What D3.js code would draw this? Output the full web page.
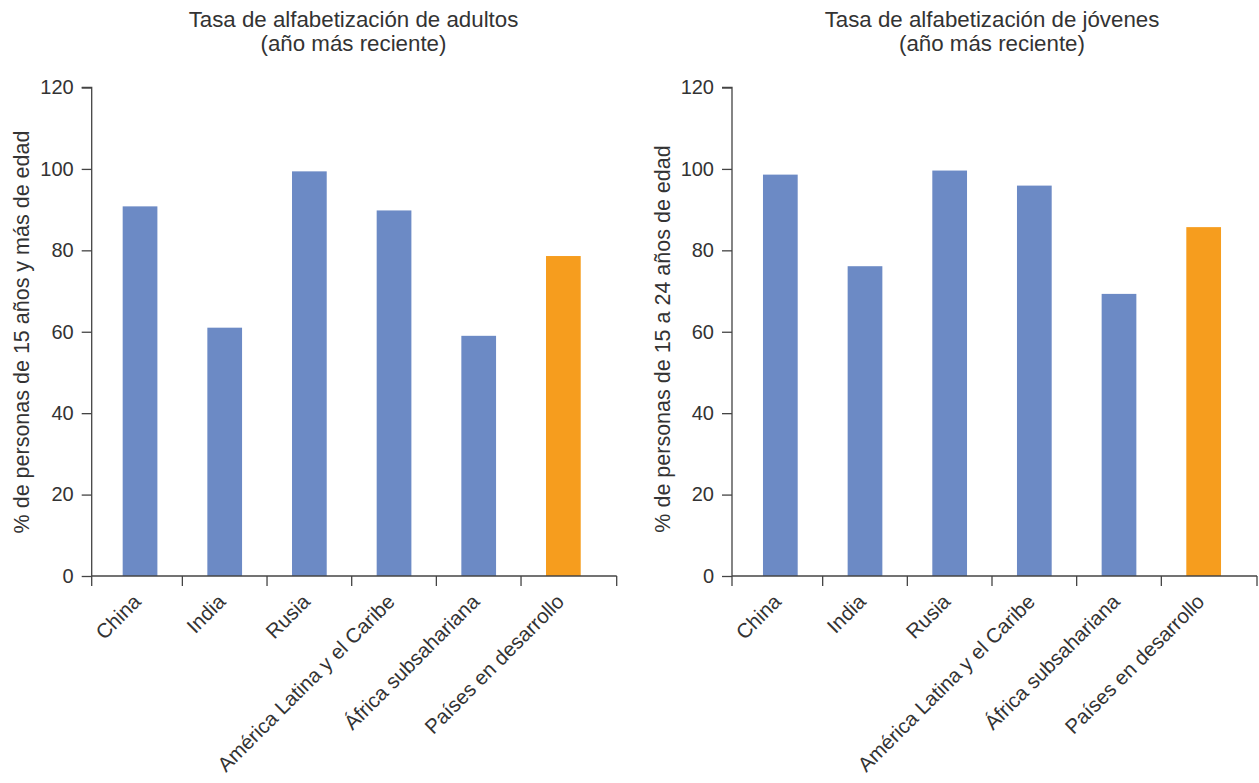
<!DOCTYPE html>
<html><head><meta charset="utf-8">
<script src="https://cdn.jsdelivr.net/npm/d3@7"></script>
<style>
body{margin:0;background:#fff;}
text{font-family:"Liberation Sans","Helvetica",Arial,sans-serif;fill:#333;}
</style></head>
<body><svg id="chart" width="1259" height="783"></svg>
<script>
const categories = ["China","India","Rusia","América Latina y el Caribe","África subsahariana","Países en desarrollo"];
const adultValues = [90.8, 61.0, 99.4, 89.8, 59.0, 78.6];
const youthValues = [98.6, 76.1, 99.6, 95.9, 69.3, 85.7];
const yTicks = [0, 20, 40, 60, 80, 100, 120];
const highlight = "Países en desarrollo";
const titles = [["Tasa de alfabetización de adultos","(año más reciente)"],["Tasa de alfabetización de jóvenes","(año más reciente)"]];
const yLabels = ["% de personas de 15 años y más de edad","% de personas de 15 a 24 años de edad"];

const svg = d3.select("#chart");
const y = d3.scaleLinear().domain([0,120]).range([576, 87.5]);

const panels = [
  {axisX: 91.7, values: adultValues, title: titles[0], ylab: yLabels[0], titleX: 353.5, ylabX: 28.5, ylabY: 332},
  {axisX: 732, values: youthValues, title: titles[1], ylab: yLabels[1], titleX: 992, ylabX: 669.5, ylabY: 339}
];

panels.forEach(p => {
  const g = svg.append("g");
  const x = d3.scaleBand().domain(categories).range([p.axisX + 6, p.axisX + 514]).paddingInner(0.59).paddingOuter(0.295);
  // bars
  g.selectAll("rect").data(categories).join("rect")
    .attr("x", d => x(d))
    .attr("width", x.bandwidth())
    .attr("y", (d,i) => y(p.values[i]))
    .attr("height", (d,i) => y(0) - y(p.values[i]))
    .attr("fill", d => d === highlight ? "#f69d1e" : "#6c8ac5");
  // y axis
  const yAxis = d3.axisLeft(y).tickValues(yTicks).tickSize(10).tickPadding(8);
  const ya = g.append("g").attr("transform", `translate(${p.axisX},0)`).call(yAxis);
  ya.select(".domain").attr("stroke", "#444").attr("stroke-width", 1.3).attr("d", `M-10,${y(120)}H0V${y(0)}`);
  ya.selectAll(".tick line").attr("stroke", "#444").attr("stroke-width", 1.3);
  ya.selectAll(".tick text").attr("font-size", 20).attr("fill", "#333").attr("font-family", "Liberation Sans, Arial, sans-serif");
  // x axis line with ticks at band boundaries
  const step = x.step();
  const axisEnd = p.axisX + 525;
  const bounds = [p.axisX];
  categories.slice(1).forEach(c => bounds.push(x(c) - (step - x.bandwidth())/2));
  bounds.push(axisEnd);
  g.append("line").attr("x1", p.axisX).attr("x2", axisEnd).attr("y1", y(0)).attr("y2", y(0))
    .attr("stroke", "#444").attr("stroke-width", 1.3);
  g.selectAll("line.xt").data(bounds).join("line").attr("class","xt")
    .attr("x1", d => d).attr("x2", d => d).attr("y1", y(0)).attr("y2", y(0) + 10)
    .attr("stroke", "#444").attr("stroke-width", 1.3);
  // x labels
  g.selectAll("text.xl").data(categories).join("text").attr("class","xl")
    .attr("text-anchor", "end")
    .attr("font-size", 20.5)
    .attr("transform", d => `translate(${x(d) + x.bandwidth()/2 + 2},${y(0) + 27}) rotate(-45)`)
    .text(d => d);
  // title
  g.append("text").attr("x", p.titleX).attr("y", 27).attr("text-anchor","middle").attr("font-size", 22.3).text(p.title[0]);
  g.append("text").attr("x", p.titleX).attr("y", 50.5).attr("text-anchor","middle").attr("font-size", 22.3).text(p.title[1]);
  // y label
  g.append("text").attr("transform", `translate(${p.ylabX},${p.ylabY}) rotate(-90)`)
    .attr("text-anchor","middle").attr("font-size", 21.5).text(p.ylab);
});
</script></body></html>
